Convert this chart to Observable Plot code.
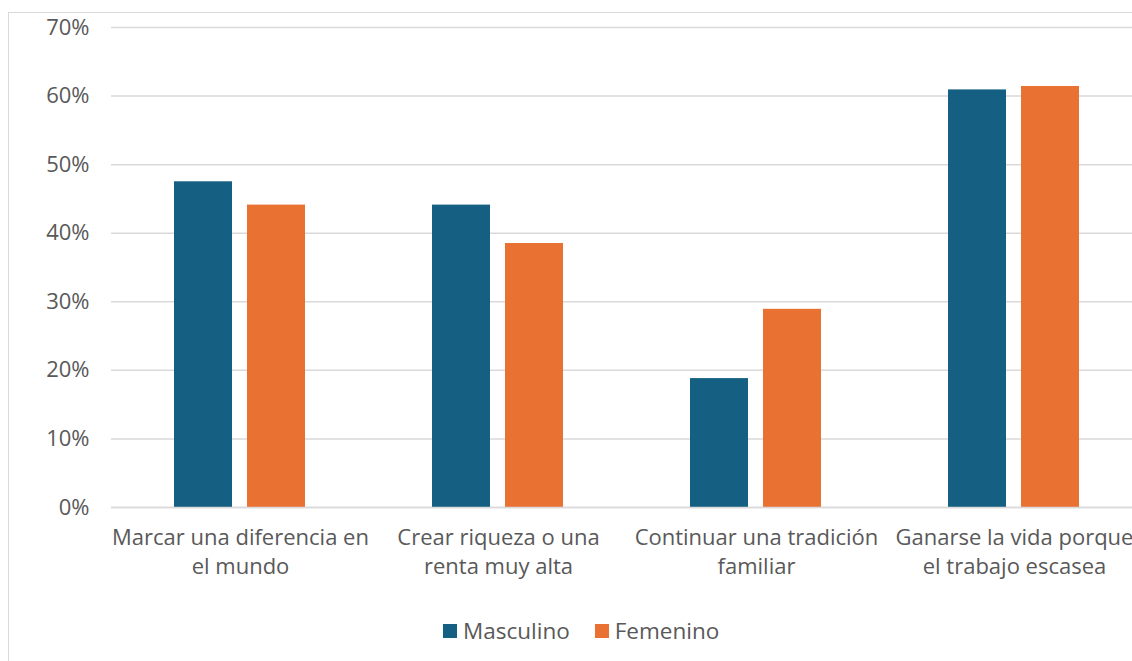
<!DOCTYPE html>
<html><head><meta charset="utf-8">
<script src="https://cdn.jsdelivr.net/npm/d3@7"></script>
<script src="https://cdn.jsdelivr.net/npm/@observablehq/plot@0.6"></script>
<style>
html,body{margin:0;padding:0;background:#fff;overflow:hidden;width:1132px;height:661px;}
#frame{position:absolute;left:8px;top:12px;width:1200px;height:700px;border:1.5px solid #d9d9d9;box-sizing:border-box;}
#chart{position:absolute;left:0;top:0;width:1143px;}
#chart svg{max-width:none !important;}
#legend{position:absolute;top:615px;left:443px;font-family:"Open Sans",sans-serif;font-size:22.5px;color:#595959;display:flex;align-items:center;white-space:nowrap;}
#legend .sw{display:inline-block;width:14px;height:14px;margin-right:6px;}
#legend .item{display:flex;align-items:center;margin-right:25px;}
</style></head>
<body>
<div id="frame"></div>
<div id="chart"></div>
<div id="legend"></div>
<script>
const categories = ["Marcar una diferencia en\nel mundo","Crear riqueza o una\nrenta muy alta","Continuar una tradición\nfamiliar","Ganarse la vida porque\nel trabajo escasea"];
const series = ["Masculino","Femenino"];
const masculino = [0.475, 0.441, 0.188, 0.609];
const femenino = [0.441, 0.385, 0.289, 0.614];
const colors = ["#156082","#E97132"];
const yTicks = [0,0.1,0.2,0.3,0.4,0.5,0.6,0.7];

const data = [];
categories.forEach((c,i)=>{
  data.push({cat:c, sexo:series[0], value:masculino[i]});
  data.push({cat:c, sexo:series[1], value:femenino[i]});
});

const font = '"Open Sans", sans-serif';
const chart = Plot.plot({
  width: 1143, height: 600,
  marginLeft: 111, marginRight: 0, marginTop: 27, marginBottom: 93,
  style: {fontFamily: font, fontSize: "22px", color: "#595959", background: "transparent", overflow: "visible", maxWidth: "none"},
  fx: {domain: categories, paddingInner: 0, paddingOuter: 0, label: null},
  x: {domain: series, paddingInner: 0.205, paddingOuter: 0.86, axis: null},
  y: {domain: [0, 0.7], label: null},
  color: {domain: series, range: colors},
  marks: [
    Plot.gridY(yTicks, {stroke: "#d9d9d9", strokeOpacity: 1, strokeWidth: 1.5}),
    Plot.barY(data, {fx: "cat", x: "sexo", y: "value", fill: "sexo"}),
    Plot.ruleY([0], {stroke: "#d9d9d9", strokeWidth: 1.5}),
    Plot.axisY(yTicks, {tickSize: 0, tickPadding: 22, tickFormat: d3.format(".0%"), fontSize: 22, fill: "#595959", label: null}),
    Plot.axisFx({tickSize: 0, tickPadding: 17, fontSize: 22, fill: "#595959", lineHeight: 1.32, label: null, anchor: "bottom"})
  ]
});
document.getElementById("chart").appendChild(chart);

const lg = document.getElementById("legend");
series.forEach((s,i)=>{
  const it = document.createElement("span"); it.className="item";
  const sw = document.createElement("span"); sw.className="sw"; sw.style.background = colors[i];
  it.appendChild(sw); it.appendChild(document.createTextNode(s));
  lg.appendChild(it);
});
</script>
</body></html>
